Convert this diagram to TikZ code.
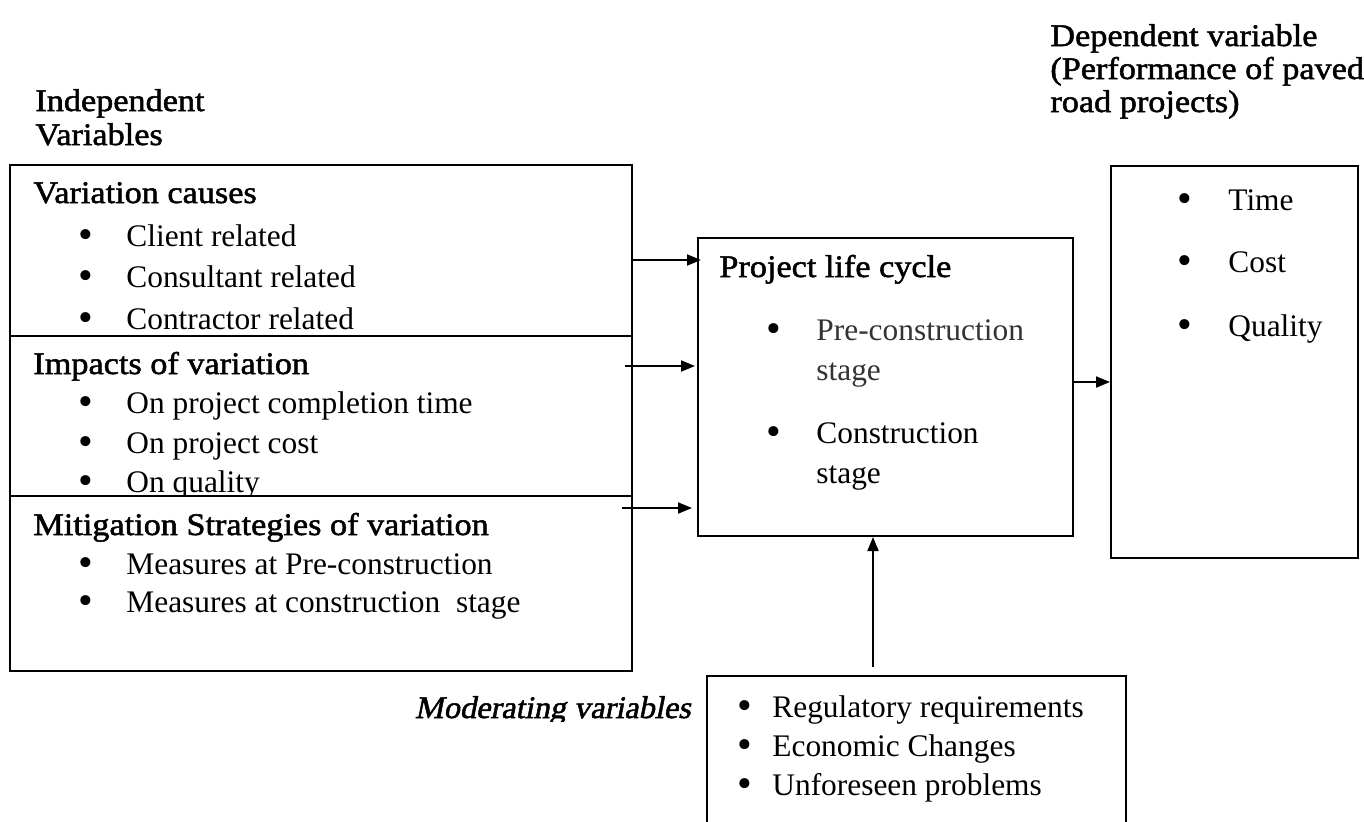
\documentclass[tikz,border=0pt]{standalone}
\usepackage{fontspec}
\setmainfont{Liberation Serif}
% heavy and slanted-heavy cuts built from the upright face
\newfontfamily\headface{Liberation Serif}[FakeBold=1.6, FakeStretch=1.09]
\newfontfamily\headslant{Liberation Serif}[FakeBold=1.6, FakeSlant=0.2, FakeStretch=1.03]
\usetikzlibrary{arrows.meta}
\begin{document}
\begin{tikzpicture}[x=0.5pt,y=-0.5pt,
  box/.style={draw, line width=1pt, inner sep=0pt, anchor=north west},
  txt/.style={anchor=base west, inner sep=0pt, font=\fontsize{15.7}{19}\selectfont},
  head/.style={anchor=base west, inner sep=0pt, font=\headface\fontsize{15.7}{19}\selectfont},
  bul/.style={anchor=base, inner sep=0pt, font=\fontsize{21}{24}\selectfont},
  link/.style={line width=1pt, -{Triangle[length=7pt,width=5.5pt]}}]
\clip (0,0) rectangle (1364,821);
\useasboundingbox (0,0) rectangle (1364,821);

% column headings
\node[head] (indep1) at (35,111) {Independent};
\node[head] (indep2) at (35,145) {Variables};
\node[head] (dep1) at (1050,46) {Dependent variable};
\node[head] (dep2) at (1050,79) {(Performance of paved};
\node[head] (dep3) at (1050,112) {road projects)};

% independent variable boxes, text kept inside each box
\begin{scope}
\clip (9,164) rectangle (631,335);
\node[head] (vc) at (33,203) {Variation causes};
\node[bul] (b1) at (86,248) {•}; \node[txt] (t1) at (126,246) {Client related};
\node[bul] (b2) at (86,289) {•}; \node[txt] (t2) at (126,287) {Consultant related};
\node[bul] (b3) at (86,331) {•}; \node[txt] (t3) at (126,329) {Contractor related};
\end{scope}
\begin{scope}
\clip (9,335) rectangle (631,495);
\node[head] (iv) at (33,374) {Impacts of variation};
\node[bul] (b4) at (86,415) {•}; \node[txt] (t4) at (126,413) {On project completion time};
\node[bul] (b5) at (86,455) {•}; \node[txt] (t5) at (126,453) {On project cost};
\node[bul] (b6) at (86,494) {•}; \node[txt] (t6) at (126,492) {On quality};
\end{scope}
\node[head] (ms) at (33,535) {Mitigation Strategies of variation};
\node[bul] (b7) at (86,576) {•}; \node[txt] (t7) at (126,574) {Measures at Pre-construction};
\node[bul] (b8) at (86,614) {•}; \node[txt] (t8) at (126,612) {Measures at construction\ \ stage};

\node[box, minimum width=311pt, minimum height=85.5pt] (cause) at (9,164) {};
\node[box, minimum width=311pt, minimum height=80pt] (impact) at (9,335) {};
\node[box, minimum width=311pt, minimum height=87.5pt] (mitig) at (9,495) {};

% project life cycle
\node[box, minimum width=187.5pt, minimum height=149pt] (plc) at (697,237) {};
\node[head] (plct) at (719,277) {Project life cycle};
\node[bul] (b9) at (774,342) {•}; \node[txt, text=black!80] (t9) at (816,340) {Pre-construction};
\node[txt, text=black!80] (t9b) at (816,380) {stage};
\node[bul] (b10) at (774,445) {•}; \node[txt] (t10) at (816,443) {Construction};
\node[txt] (t10b) at (816,483) {stage};

% performance
\node[box, minimum width=123.5pt, minimum height=196pt] (perf) at (1110,165) {};
\node[bul] (b11) at (1185,212) {•}; \node[txt] (t11) at (1228,210) {Time};
\node[bul] (b12) at (1185,274) {•}; \node[txt] (t12) at (1228,272) {Cost};
\node[bul] (b13) at (1185,338) {•}; \node[txt] (t13) at (1228,336) {Quality};

% moderating variables
\begin{scope}
\clip (380,680) rectangle (700,721);
\node[anchor=base east, inner sep=0pt, font=\headslant\fontsize{15.7}{19}\selectfont] (modl) at (691,718) {Moderating variables};
\end{scope}
\node[box, minimum width=209.5pt, minimum height=82.5pt] (mod) at (706,675) {};
\node[bul] (b14) at (745,719) {•}; \node[txt] (t14) at (772,717) {Regulatory requirements};
\node[bul] (b15) at (745,758) {•}; \node[txt] (t15) at (772,756) {Economic Changes};
\node[bul] (b16) at (745,797) {•}; \node[txt] (t16) at (772,795) {Unforeseen problems};

% connectors
\coordinate (s1) at (633,260);
\coordinate (s2) at (625,366);
\coordinate (s3) at (622,508);
\coordinate (s4) at (873,667);
\draw[link] (s1) -- ([xshift=2pt]plc.west |- s1);
\draw[link] (s2) -- ([xshift=-1pt]plc.west |- s2);
\draw[link] (s3) -- ([xshift=-2.5pt]plc.west |- s3);
\draw[link] (s4) -- (plc.south -| s4);
\draw[link] (plc.east |- 0,382) -- (perf.west |- 0,382);
\end{tikzpicture}
\end{document}
